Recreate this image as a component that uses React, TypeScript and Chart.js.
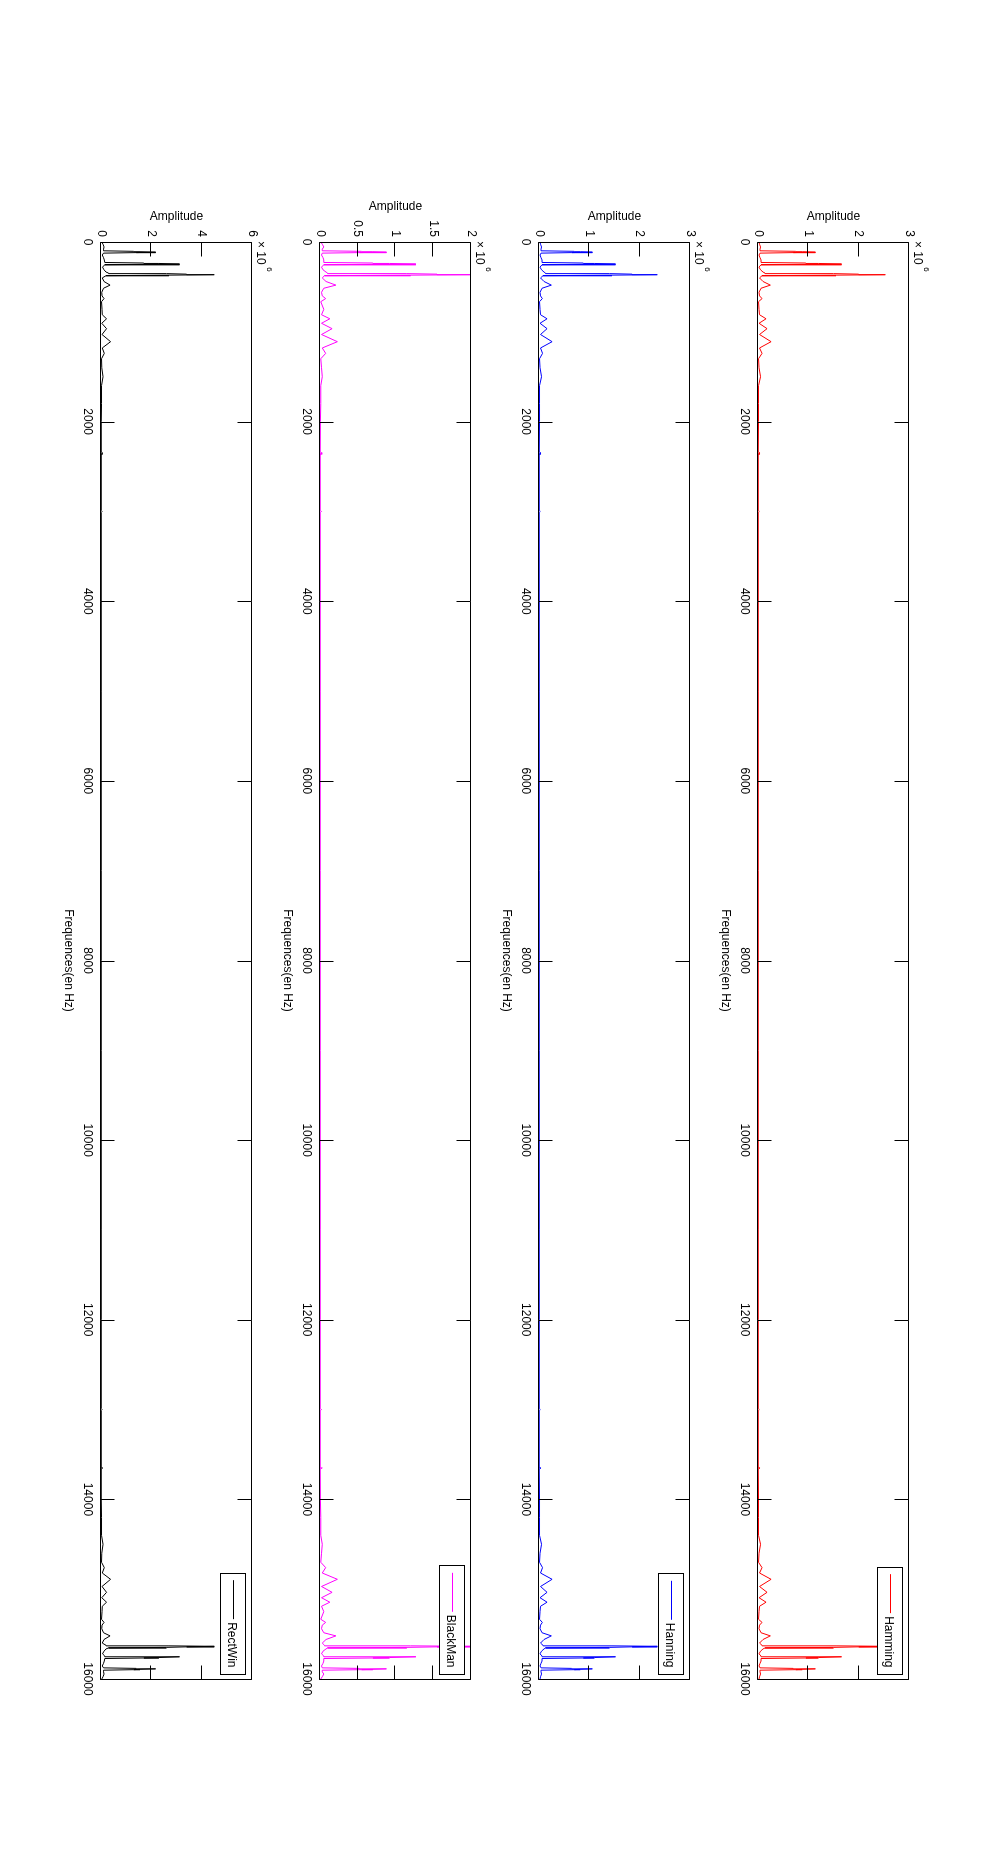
import React, { useEffect, useRef } from 'react';
import { Chart, registerables } from 'chart.js';

Chart.register(...registerables);

// ---------------- DATA ----------------
const freqTicks = [0, 2000, 4000, 6000, 8000, 10000, 12000, 14000, 16000];

const freqLow = [0, 25, 55, 80, 98, 104, 108, 113, 118, 124, 145, 175, 200, 228, 234, 239, 245, 250, 256, 280, 310, 335, 346, 352, 358, 364, 369, 375, 400, 440, 480, 515, 560, 600, 630, 665, 750, 810, 855, 905, 965, 1030, 1110, 1180, 1240, 1300, 1400, 1500, 1600, 1800, 2000, 2340, 2350, 2360, 2990, 3000, 3010, 4000, 5000, 6000, 7000, 8000];
const freqHigh = [9000, 10000, 11000, 12000, 12990, 13000, 13010, 13640, 13650, 13660, 14000, 14200, 14400, 14500, 14600, 14700, 14760, 14820, 14890, 14970, 15035, 15095, 15145, 15190, 15250, 15335, 15370, 15400, 15440, 15485, 15520, 15560, 15600, 15625, 15631, 15636, 15642, 15648, 15654, 15665, 15690, 15720, 15744, 15750, 15755, 15761, 15766, 15772, 15800, 15825, 15855, 15876, 15882, 15887, 15892, 15896, 15902, 15920, 15945, 15975, 16000];

// amplitudes in units of 10^6
const hammingLow = [0.02, 0.03, 0.05, 0.04, 0.04, 0.75, 0.88, 1.14, 0.70, 0.04, 0.02, 0.04, 0.06, 0.06, 0.95, 1.20, 1.66, 0.90, 0.06, 0.02, 0.05, 0.10, 0.14, 1.50, 2.00, 2.53, 1.55, 0.08, 0.03, 0.10, 0.245, 0.06, 0.02, 0.03, 0.08, 0.01, 0.02, 0.03, 0.16, 0.02, 0.18, 0.03, 0.26, 0.03, 0.08, 0.01, 0.02, 0.05, 0.01, 0.01, 0.01, 0.005, 0.04, 0.005, 0.005, 0.025, 0.005, 0.005, 0.005, 0.005, 0.005, 0.005];
const hammingHigh = [0.005, 0.005, 0.005, 0.005, 0.005, 0.025, 0.005, 0.005, 0.04, 0.005, 0.01, 0.01, 0.01, 0.05, 0.02, 0.01, 0.08, 0.03, 0.26, 0.03, 0.18, 0.02, 0.16, 0.03, 0.02, 0.01, 0.08, 0.03, 0.02, 0.06, 0.245, 0.10, 0.03, 0.08, 1.55, 2.53, 2.00, 1.50, 0.14, 0.10, 0.05, 0.02, 0.06, 0.90, 1.66, 1.20, 0.95, 0.06, 0.06, 0.04, 0.02, 0.04, 0.70, 1.14, 0.88, 0.75, 0.04, 0.04, 0.05, 0.03, 0.02];

const hanningLow = [0.02, 0.03, 0.05, 0.04, 0.04, 0.70, 0.82, 1.06, 0.65, 0.04, 0.02, 0.04, 0.06, 0.06, 0.88, 1.10, 1.52, 0.82, 0.06, 0.02, 0.05, 0.10, 0.13, 1.40, 1.85, 2.35, 1.45, 0.08, 0.03, 0.10, 0.245, 0.06, 0.02, 0.03, 0.066, 0.01, 0.02, 0.03, 0.16, 0.02, 0.16, 0.03, 0.26, 0.03, 0.07, 0.01, 0.02, 0.05, 0.01, 0.01, 0.01, 0.005, 0.04, 0.005, 0.005, 0.025, 0.005, 0.005, 0.005, 0.005, 0.005, 0.005];
const hanningHigh = [0.005, 0.005, 0.005, 0.005, 0.005, 0.025, 0.005, 0.005, 0.04, 0.005, 0.01, 0.01, 0.01, 0.05, 0.02, 0.01, 0.07, 0.03, 0.26, 0.03, 0.16, 0.02, 0.16, 0.03, 0.02, 0.01, 0.066, 0.03, 0.02, 0.06, 0.245, 0.10, 0.03, 0.08, 1.45, 2.35, 1.85, 1.40, 0.13, 0.10, 0.05, 0.02, 0.06, 0.82, 1.52, 1.10, 0.88, 0.06, 0.06, 0.04, 0.02, 0.04, 0.65, 1.06, 0.82, 0.70, 0.04, 0.04, 0.05, 0.03, 0.02];

const blackmanLow = [0.01, 0.03, 0.05, 0.03, 0.03, 0.55, 0.70, 0.88, 0.52, 0.03, 0.02, 0.04, 0.05, 0.05, 0.70, 0.92, 1.27, 0.70, 0.05, 0.02, 0.04, 0.08, 0.10, 1.15, 1.55, 1.99, 1.20, 0.06, 0.03, 0.08, 0.21, 0.05, 0.02, 0.03, 0.075, 0.01, 0.05, 0.02, 0.13, 0.02, 0.16, 0.02, 0.23, 0.03, 0.075, 0.01, 0.02, 0.03, 0.01, 0.01, 0.005, 0.003, 0.03, 0.003, 0.003, 0.02, 0.003, 0.003, 0.003, 0.003, 0.003, 0.003];
const blackmanHigh = [0.003, 0.003, 0.003, 0.003, 0.003, 0.02, 0.003, 0.003, 0.03, 0.003, 0.005, 0.01, 0.01, 0.03, 0.02, 0.01, 0.075, 0.03, 0.23, 0.02, 0.16, 0.02, 0.13, 0.02, 0.05, 0.01, 0.075, 0.03, 0.02, 0.05, 0.21, 0.08, 0.03, 0.06, 1.20, 1.99, 1.55, 1.15, 0.10, 0.08, 0.04, 0.02, 0.05, 0.70, 1.27, 0.92, 0.70, 0.05, 0.05, 0.04, 0.02, 0.03, 0.52, 0.88, 0.70, 0.55, 0.03, 0.03, 0.05, 0.03, 0.01];

const rectwinLow = [0.03, 0.08, 0.12, 0.10, 0.10, 1.30, 1.55, 2.17, 1.40, 0.10, 0.05, 0.10, 0.13, 0.15, 1.70, 2.30, 3.12, 1.60, 0.15, 0.06, 0.12, 0.20, 0.30, 2.60, 3.40, 4.50, 2.70, 0.20, 0.05, 0.12, 0.36, 0.10, 0.03, 0.04, 0.12, 0.02, 0.04, 0.05, 0.22, 0.03, 0.22, 0.04, 0.38, 0.05, 0.13, 0.02, 0.03, 0.08, 0.02, 0.02, 0.01, 0.01, 0.07, 0.01, 0.01, 0.04, 0.01, 0.01, 0.01, 0.01, 0.01, 0.01];
const rectwinHigh = [0.01, 0.01, 0.01, 0.01, 0.01, 0.04, 0.01, 0.01, 0.07, 0.01, 0.01, 0.02, 0.02, 0.08, 0.03, 0.02, 0.13, 0.05, 0.38, 0.04, 0.22, 0.03, 0.22, 0.05, 0.04, 0.02, 0.12, 0.04, 0.03, 0.10, 0.36, 0.12, 0.05, 0.20, 2.70, 4.50, 3.40, 2.60, 0.30, 0.20, 0.12, 0.06, 0.15, 1.60, 3.12, 2.30, 1.70, 0.15, 0.13, 0.10, 0.05, 0.10, 1.40, 2.17, 1.55, 1.30, 0.10, 0.10, 0.12, 0.08, 0.03];

const hammingTicks = [0, 1, 2, 3];
const hanningTicks = [0, 1, 2, 3];
const blackmanTicks = [0, 0.5, 1, 1.5, 2];
const rectwinTicks = [0, 2, 4, 6];

const seriesLabels = ['Hamming', 'Hanning', 'BlackMan', 'RectWin'];
const xTitle = 'Frequences(en Hz)';
const yTitle = 'Amplitude';
const exponent = '6';

// ---------------- LAYOUT (original, unrotated frame 1855 x 1001) ----------------
const FIG_W = 1855;
const FIG_H = 1001;
const BOX_LEFT = 242;
const BOX_RIGHT = 1679;
const BOX_H = 151;
const PAD_TOP = 40;
const PAD_BOTTOM = 45;
const FONT = '"Liberation Sans", Arial, Helvetica, sans-serif';

const panels = [
  { label: seriesLabels[0], color: '#ff0000', low: hammingLow, high: hammingHigh, ticks: hammingTicks, boxTop: 92 },
  { label: seriesLabels[1], color: '#0000ff', low: hanningLow, high: hanningHigh, ticks: hanningTicks, boxTop: 311 },
  { label: seriesLabels[2], color: '#ff00ff', low: blackmanLow, high: blackmanHigh, ticks: blackmanTicks, boxTop: 530 },
  { label: seriesLabels[3], color: '#000000', low: rectwinLow, high: rectwinHigh, ticks: rectwinTicks, boxTop: 749 },
];

const fmt = (v: number) => String(v);

const matlabPlugin = {
  id: 'matlabAxes',
  afterDraw(chart: any) {
    const { ctx, chartArea: a, scales } = chart;
    const xs = scales.x;
    const ys = scales.y;
    const ds = chart.data.datasets[0];
    const yTickVals: number[] = ys.ticks.map((t: any) => t.value);
    const xTickVals: number[] = xs.ticks.map((t: any) => t.value);
    const L = Math.floor(a.left) + 0.5;
    const R = Math.floor(a.right) + 0.5;
    const T = Math.floor(a.top) + 0.5;
    const B = Math.floor(a.bottom) + 0.5;
    const TL = 14;
    ctx.save();
    ctx.strokeStyle = '#000';
    ctx.lineWidth = 1;
    ctx.beginPath();
    ctx.rect(L, T, R - L, B - T);
    for (const v of xTickVals) {
      const p = Math.round(xs.getPixelForValue(v)) + 0.5;
      ctx.moveTo(p, B); ctx.lineTo(p, B - TL);
      ctx.moveTo(p, T); ctx.lineTo(p, T + TL);
    }
    for (const v of yTickVals) {
      const p = Math.round(ys.getPixelForValue(v)) + 0.5;
      ctx.moveTo(L, p); ctx.lineTo(L + TL, p);
      ctx.moveTo(R, p); ctx.lineTo(R - TL, p);
    }
    ctx.stroke();

    ctx.fillStyle = '#000';
    // exponent label x10^6
    ctx.font = `12px ${FONT}`;
    ctx.textAlign = 'left';
    ctx.textBaseline = 'alphabetic';
    const base = '\u00d7 10';
    ctx.fillText(base, a.left - 1, a.top - 5);
    const bw = ctx.measureText(base).width;
    ctx.font = `8px ${FONT}`;
    ctx.fillText(exponent, a.left - 1 + bw + 2.5, a.top - 15.5);

    // axis titles
    ctx.font = `12px ${FONT}`;
    let maxW = 0;
    for (const v of yTickVals) maxW = Math.max(maxW, ctx.measureText(fmt(v)).width);
    ctx.save();
    ctx.translate(a.left - 5 - maxW - 10, (a.top + a.bottom) / 2);
    ctx.rotate(-Math.PI / 2);
    ctx.textAlign = 'center';
    ctx.textBaseline = 'alphabetic';
    ctx.fillText(yTitle, 0, 0);
    ctx.restore();
    ctx.textAlign = 'center';
    ctx.textBaseline = 'alphabetic';
    ctx.fillText(xTitle, (a.left + a.right) / 2, a.bottom + 36);

    // legend
    const label = ds.label as string;
    const tw = ctx.measureText(label).width;
    const legRight = Math.floor(a.right - 5) + 0.5;
    const textRight = legRight - 7;
    const textLeft = textRight - tw;
    const lineRight = textLeft - 3;
    const lineLeft = lineRight - 39;
    const legLeft = Math.floor(lineLeft - 7) + 0.5;
    const legTop = Math.floor(a.top + 6) + 0.5;
    const legH = 25;
    ctx.fillStyle = '#fff';
    ctx.fillRect(legLeft, legTop, legRight - legLeft, legH);
    ctx.strokeStyle = '#000';
    ctx.strokeRect(legLeft, legTop, legRight - legLeft, legH);
    const midY = Math.floor(legTop + legH / 2) + 0.5;
    ctx.strokeStyle = ds.borderColor;
    ctx.beginPath();
    ctx.moveTo(lineLeft, midY - 1);
    ctx.lineTo(lineRight, midY - 1);
    ctx.stroke();
    ctx.fillStyle = '#000';
    ctx.textAlign = 'left';
    ctx.textBaseline = 'middle';
    ctx.fillText(label, textLeft, midY + 1);
    ctx.restore();
  },
};

function Panel({ cfg }: { cfg: any }) {
  const ref = useRef<HTMLCanvasElement>(null);
  const h = BOX_H + PAD_TOP + PAD_BOTTOM;
  useEffect(() => {
    const canvas = ref.current;
    if (!canvas) return;
    const freqs = [...freqLow, ...freqHigh];
    const amps = [...cfg.low, ...cfg.high];
    const points = freqs.map((f, i) => ({ x: f, y: amps[i] }));
    const yt: number[] = cfg.ticks;
    const chart = new Chart(canvas, {
      type: 'line',
      data: {
        datasets: [
          {
            label: cfg.label,
            data: points,
            borderColor: cfg.color,
            backgroundColor: cfg.color,
            borderWidth: 1,
            pointRadius: 0,
            tension: 0,
            fill: false,
          },
        ],
      },
      options: {
        animation: false,
        responsive: false,
        devicePixelRatio: 1,
        events: [],
        layout: { padding: { top: PAD_TOP, left: 0, right: FIG_W - BOX_RIGHT, bottom: 0 } },
        plugins: { legend: { display: false }, tooltip: { enabled: false }, title: { display: false } },
        scales: {
          x: {
            type: 'linear',
            min: freqTicks[0],
            max: freqTicks[freqTicks.length - 1],
            afterBuildTicks: (s: any) => { s.ticks = freqTicks.map((v) => ({ value: v })); },
            afterFit: (s: any) => { s.height = PAD_BOTTOM; },
            grid: { display: false, drawTicks: false },
            border: { display: false },
            ticks: {
              autoSkip: false,
              maxRotation: 0,
              minRotation: 0,
              padding: 6,
              color: '#000',
              font: { family: FONT, size: 12 },
              callback: (v: any) => fmt(Number(v)),
            },
          },
          y: {
            type: 'linear',
            min: yt[0],
            max: yt[yt.length - 1],
            afterBuildTicks: (s: any) => { s.ticks = yt.map((v) => ({ value: v })); },
            afterFit: (s: any) => { s.width = BOX_LEFT; },
            grid: { display: false, drawTicks: false },
            border: { display: false },
            ticks: {
              padding: 5,
              color: '#000',
              font: { family: FONT, size: 12 },
              callback: (v: any) => fmt(Number(v)),
            },
          },
        },
      },
      plugins: [matlabPlugin],
    } as any);
    return () => chart.destroy();
  }, []);
  return (
    <canvas
      ref={ref}
      width={FIG_W}
      height={h}
      style={{ position: 'absolute', left: 0, top: cfg.boxTop - PAD_TOP, width: FIG_W, height: h }}
    />
  );
}

export default function App() {
  return (
    <div style={{ position: 'absolute', left: 0, top: 0, width: FIG_H, height: FIG_W, overflow: 'hidden', background: '#fff' }}>
      <div
        style={{
          position: 'absolute',
          left: 0,
          top: 0,
          width: FIG_W,
          height: FIG_H,
          transformOrigin: '0 0',
          transform: `translateX(${FIG_H}px) rotate(90deg)`,
        }}
      >
        {panels.map((p) => (
          <Panel key={p.label} cfg={p} />
        ))}
      </div>
    </div>
  );
}
